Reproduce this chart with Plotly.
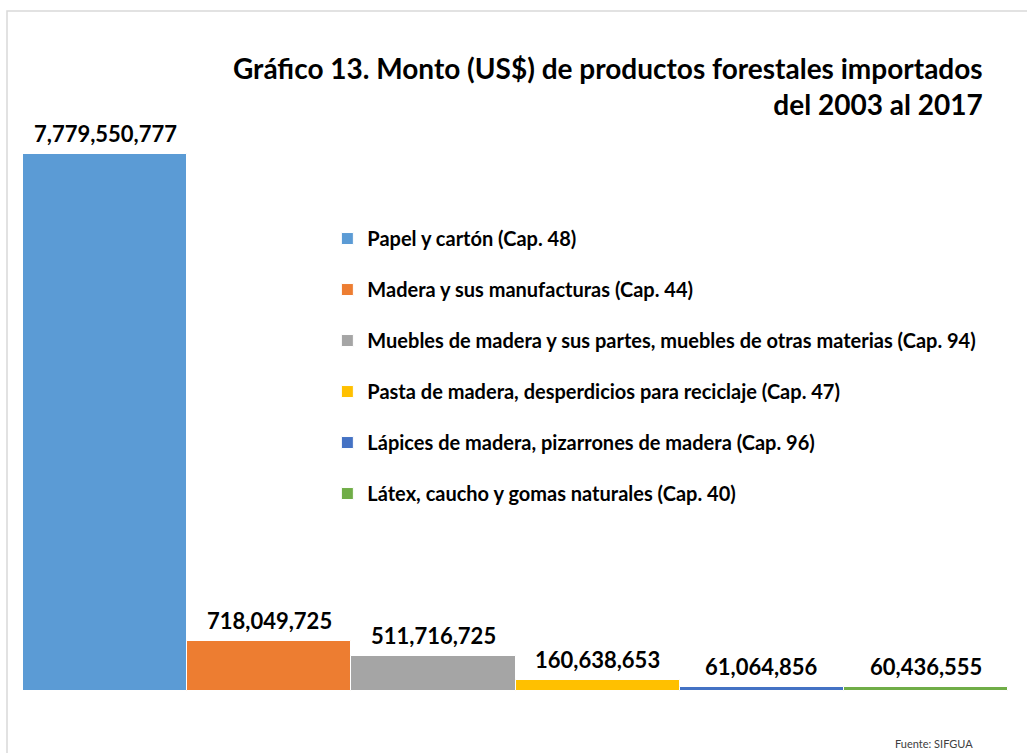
import plotly.graph_objects as go

categorias = [
    "Papel y cartón (Cap. 48)",
    "Madera y sus manufacturas (Cap. 44)",
    "Muebles de madera y sus partes, muebles de otras materias (Cap. 94)",
    "Pasta de madera, desperdicios para reciclaje (Cap. 47)",
    "Lápices de madera, pizarrones de madera (Cap. 96)",
    "Látex, caucho y gomas naturales (Cap. 40)",
]
montos = [7779550777, 718049725, 511716725, 160638653, 61064856, 60436555]
colores = ["#5B9BD5", "#ED7D31", "#A5A5A5", "#FFC000", "#4472C4", "#70AD47"]

fuente = "Lato"

fig = go.Figure()
for i, (cat, val, col) in enumerate(zip(categorias, montos, colores)):
    fig.add_trace(go.Bar(
        x=[i], y=[val], name=cat,
        legendgroup=str(i),
        marker=dict(color=col, line=dict(color="white", width=1)),
        hoverinfo="name+y",
    ))
    # etiqueta de valor sobre la barra
    fig.add_annotation(
        x=i, y=val, text=f"{val:,}", showarrow=False,
        yanchor="bottom", yshift=5,
        font=dict(family=fuente, size=22, color="black", weight="bold"),
    )

fig.update_layout(
    width=1027, height=753,
    margin=dict(l=23, r=19, t=139, b=62),
    plot_bgcolor="white", paper_bgcolor="white",
    barmode="overlay", bargap=0,
    showlegend=True,
    legend=dict(
        x=0.309, y=0.855, xanchor="left", yanchor="top",
        font=dict(family=fuente, size=20, color="black", weight="bold"),
        tracegroupgap=22, bgcolor="rgba(0,0,0,0)",
    ),
    xaxis=dict(range=[-0.5, 5.5], showticklabels=False, showgrid=False,
               zeroline=False, showline=False),
    yaxis=dict(range=[0, 8e9], showticklabels=False, showgrid=False,
               zeroline=False, showline=False),
)

fig.add_annotation(
    text="Gráfico 13. Monto (US$) de productos forestales importados<br>del 2003 al 2017",
    xref="paper", yref="paper", x=0.977, y=(691 - 86) / 552,
    xanchor="right", yanchor="middle", align="right", showarrow=False,
    font=dict(family=fuente, size=28, color="black", weight="bold"),
)
fig.add_annotation(
    text="Fuente: SIFGUA",
    xref="paper", yref="paper", x=0.966, y=-0.096,
    xanchor="right", yanchor="middle", showarrow=False,
    font=dict(family=fuente, size=11, color="#404040"),
)

# marco del gráfico
fig.add_shape(type="rect", xref="paper", yref="paper",
              x0=-16 / 985, y0=-70 / 552, x1=1.03, y1=(691 - 11) / 552,
              line=dict(color="#D9D9D9", width=1.5), layer="below")

fig.write_html("out.html", config={"displayModeBar": False},
               post_script="document.body.style.margin='0';")
